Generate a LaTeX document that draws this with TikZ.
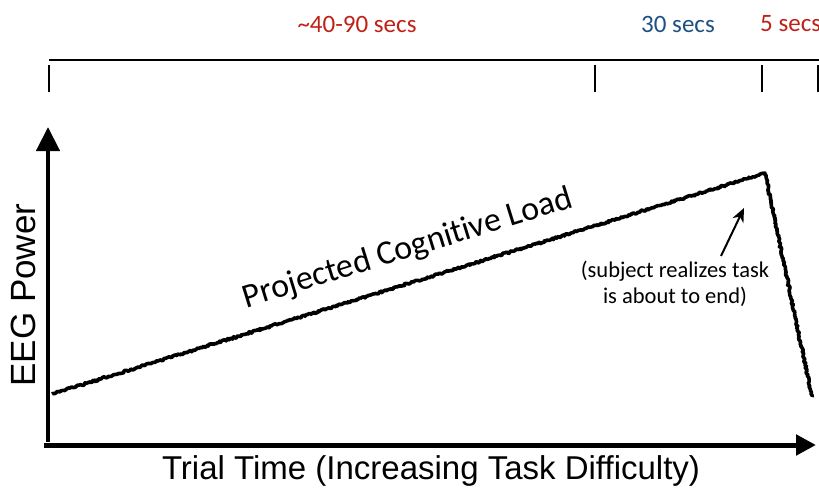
\documentclass[tikz,border=0pt]{standalone}
\usepackage{fontspec}
\setmainfont{Carlito}[Ligatures=NoCommon]
\newfontfamily\arialfont{Liberation Sans}
\usetikzlibrary{arrows.meta,decorations.pathmorphing}
\definecolor{secred}{RGB}{192,32,24}
\definecolor{secblue}{RGB}{30,80,130}
\tikzset{
  axisline/.style={line width=4.5pt},
  tickline/.style={line width=2pt},
  loadline/.style={line width=3.6pt, line join=round, decorate,
    decoration={random steps, segment length=1.3pt, amplitude=1pt}},
  seclabel/.style={font=\fontsize{25}{28}\selectfont, anchor=center, inner sep=0pt},
  axislabel/.style={font=\arialfont\fontsize{33}{36}\selectfont, inner sep=0pt},
}
\begin{document}
\begin{tikzpicture}[x=1pt,y=-1pt]
\useasboundingbox (0,0) rectangle (819,495);
% top timeline
\coordinate (tl) at (49,60);
\coordinate (tr) at (819,60);
\draw[line width=2.6pt] (tl) -- (tr);
\foreach \n/\x in {t1/49, t2/595, t3/762, t4/818} {
  \coordinate (\n a) at (\x,65);
  \coordinate (\n b) at (\x,92);
  \draw[tickline] (\n a) -- (\n b);
}
\node[seclabel, text=secred] (s1) at (357,24) {\textasciitilde 40-90 secs};
\node[seclabel, text=secblue] (s2) at (678,24) {30 secs};
\node[seclabel, text=secred, anchor=west] (s3) at (760,24) {5 secs};
% axes
\coordinate (o) at (48,442);
\coordinate (ytop) at (48,127);
\coordinate (xo) at (44,445);
\coordinate (xr) at (816,445);
\draw[axisline, -{Triangle[length=24pt,width=23pt]}] (o) -- (ytop);
\draw[axisline, line width=5pt, -{Triangle[length=20pt,width=20pt]}] (xo) -- (xr);
\node[axislabel, font=\arialfont\fontsize{35}{38}\selectfont, rotate=90] (ylab) at (23,295) {EEG Power};
\node[axislabel] (xlab) at (431,471) {Trial Time (Increasing Task Difficulty)};
% load curve
\pgfmathsetseed{7}
\coordinate (c1) at (52,394);
\coordinate (c2) at (765,173);
\coordinate (c3) at (812,397);
\draw[loadline] (c1) -- (c2) -- (c3);
\node[font=\fontsize{34}{38}\selectfont, rotate=17.2, inner sep=0pt] (proj) at (408,249) {Projected Cognitive Load};
% annotation
\node[font=\fontsize{22.5}{26}\selectfont, align=center, inner sep=0pt] (note) at (675,284) {(subject realizes task\\is about to end)};
\coordinate (atail) at (721,256);
\coordinate (ahead) at (744,208);
\draw[line width=2pt, -{Stealth[length=14pt,width=12pt]}] (atail) -- (ahead);
\end{tikzpicture}
\end{document}
